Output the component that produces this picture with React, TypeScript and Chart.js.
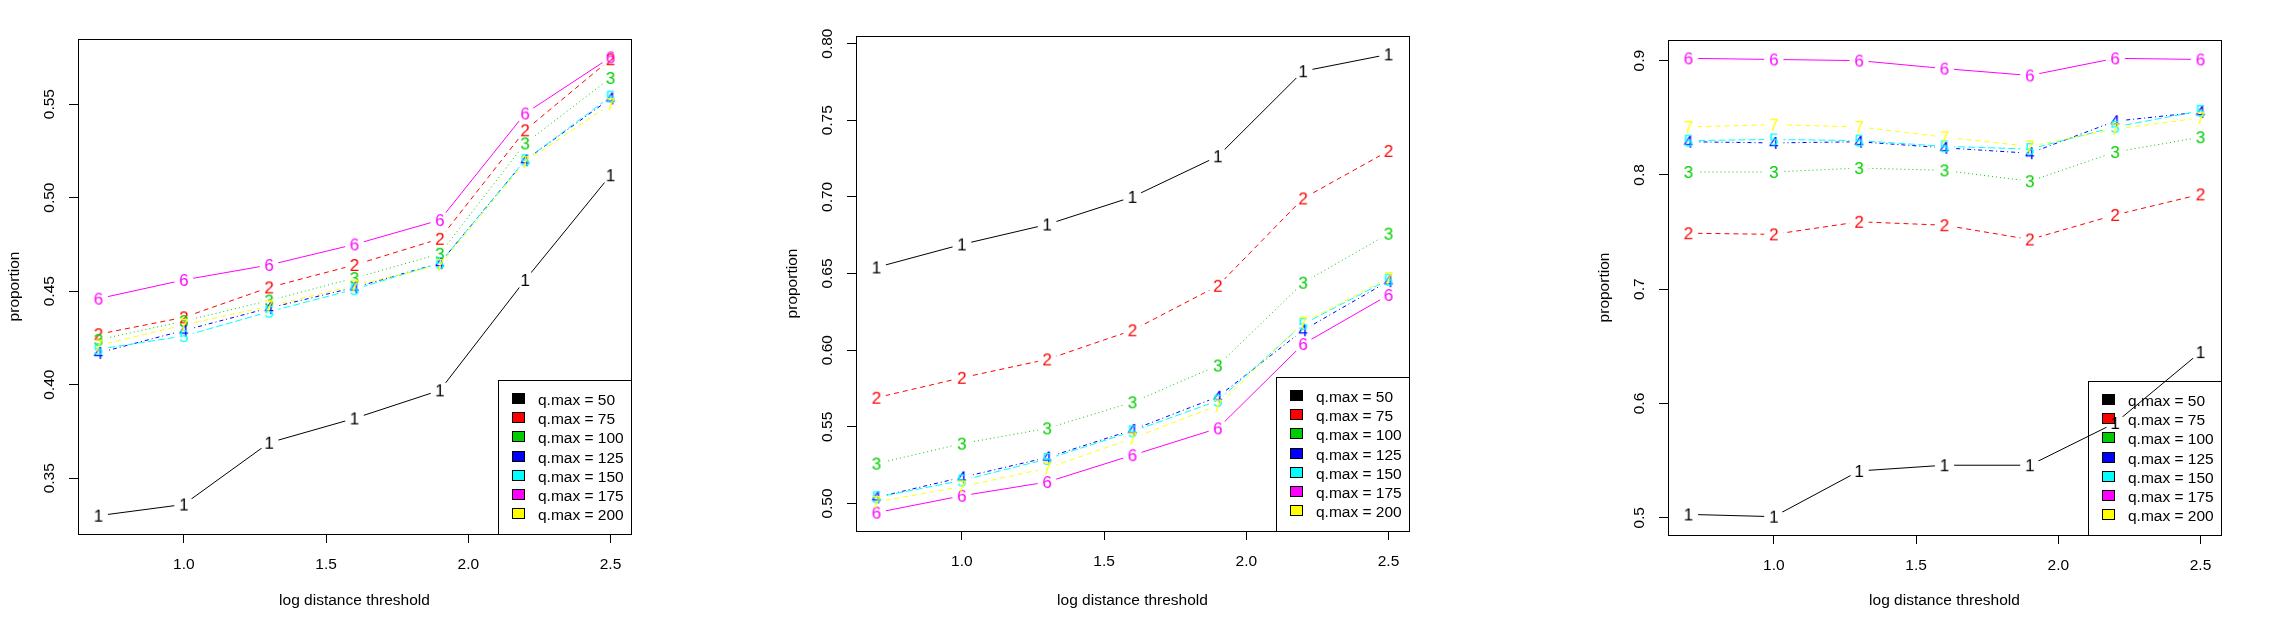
import { useEffect, useRef } from 'react'
import { Chart, registerables } from 'chart.js'

Chart.register(...registerables)

// x positions shared by all three panels
const thresholds = [0.7, 1.0, 1.3, 1.6, 1.9, 2.2, 2.5]
const qMax = [50, 75, 100, 125, 150, 175, 200]
const xTicks = [1.0, 1.5, 2.0, 2.5]

// left panel, one row per q.max
const leftValues = [
  [0.330, 0.336, 0.369, 0.382, 0.397, 0.456, 0.512],
  [0.427, 0.436, 0.452, 0.464, 0.478, 0.536, 0.574],
  [0.424, 0.434, 0.445, 0.457, 0.470, 0.529, 0.564],
  [0.417, 0.429, 0.441, 0.452, 0.465, 0.520, 0.553],
  [0.419, 0.426, 0.439, 0.451, 0.465, 0.520, 0.554],
  [0.446, 0.456, 0.464, 0.475, 0.488, 0.545, 0.575],
  [0.421, 0.432, 0.442, 0.453, 0.464, 0.519, 0.550],
]
const leftYTicks = [0.35, 0.4, 0.45, 0.5, 0.55]

// middle panel
const middleValues = [
  [0.654, 0.669, 0.682, 0.700, 0.7265, 0.782, 0.793],
  [0.569, 0.582, 0.594, 0.613, 0.642, 0.699, 0.730],
  [0.526, 0.539, 0.549, 0.566, 0.590, 0.644, 0.676],
  [0.504, 0.517, 0.530, 0.548, 0.5696, 0.613, 0.645],
  [0.504, 0.515, 0.529, 0.547, 0.567, 0.617, 0.646],
  [0.494, 0.505, 0.514, 0.5315, 0.549, 0.604, 0.636],
  [0.501, 0.511, 0.523, 0.5425, 0.564, 0.618, 0.647],
]
const middleYTicks = [0.5, 0.55, 0.6, 0.65, 0.7, 0.75, 0.8]

// right panel
const rightValues = [
  [0.503, 0.501, 0.541, 0.546, 0.546, 0.583, 0.645],
  [0.749, 0.748, 0.759, 0.756, 0.7435, 0.765, 0.783],
  [0.8026, 0.8026, 0.806, 0.804, 0.7945, 0.820, 0.833],
  [0.829, 0.828, 0.829, 0.8237, 0.819, 0.847, 0.855],
  [0.830, 0.831, 0.830, 0.825, 0.8226, 0.842, 0.856],
  [0.902, 0.901, 0.900, 0.893, 0.887, 0.902, 0.901],
  [0.842, 0.844, 0.842, 0.833, 0.825, 0.840, 0.850],
]
const rightYTicks = [0.5, 0.6, 0.7, 0.8, 0.9]

// R palette + matplot lty 1:5 cycle
const seriesColors = ['#000000', '#FF0000', '#00CD00', '#0000FF', '#00FFFF', '#FF00FF', '#FFFF00']
const seriesDashes = [[], [5, 4], [1, 3], [1, 3, 4, 3], [7, 3], [], [5, 4]]

const FONT = '"Liberation Sans", Arial, sans-serif'
const FONT_SIZE = 15.5
const POINT_FONT_SIZE = 17
const AXIS_W = 78
const BOX_W = 553
const CANVAS_W = 700
const CANVAS_H = 630
const GAP = 9.7

Chart.defaults.font.family = FONT
Chart.defaults.font.size = FONT_SIZE
Chart.defaults.color = '#000'

const panels = [
  { id: 'left', values: leftValues, yTicks: leftYTicks, decimals: 2, boxLeft: 78, boxTop: 39, boxBottom: 534 },
  { id: 'middle', values: middleValues, yTicks: middleYTicks, decimals: 2, boxLeft: 856, boxTop: 36, boxBottom: 531 },
  { id: 'right', values: rightValues, yTicks: rightYTicks, decimals: 1, boxLeft: 1668, boxTop: 40, boxBottom: 535 },
]

function paddedRange(vals: number[]) {
  const lo = Math.min(...vals)
  const hi = Math.max(...vals)
  const pad = (hi - lo) * 0.04
  return [lo - pad, hi + pad]
}

// pch as a character: small canvas used as the point style
function digitImage(digit: string, color: string) {
  const c = document.createElement('canvas')
  c.width = 28
  c.height = 28
  const g = c.getContext('2d')!
  g.font = `${POINT_FONT_SIZE}px ${FONT}`
  g.fillStyle = color
  g.textAlign = 'center'
  g.textBaseline = 'alphabetic'
  g.fillText(digit, 14, 14 + POINT_FONT_SIZE * 0.358)
  return c
}

// type = "b": leave a gap in each line around its own points
const gapPlugin = {
  id: 'typeBGaps',
  beforeDatasetDraw(chart: any, args: any) {
    const ds = chart.data.datasets[args.index]
    if (!ds.gapped) return
    const ctx = chart.ctx
    ctx.save()
    ctx.beginPath()
    ctx.rect(0, 0, chart.width, chart.height)
    for (const pt of args.meta.data) {
      ctx.moveTo(pt.x + GAP, pt.y)
      ctx.arc(pt.x, pt.y, GAP, 0, Math.PI * 2)
    }
    ctx.clip('evenodd')
  },
  afterDatasetDraw(chart: any, args: any) {
    const ds = chart.data.datasets[args.index]
    if (!ds.gapped) return
    chart.ctx.restore()
  },
}

// box, rotated y labels and the legend in R's style
const framePlugin = {
  id: 'rFrame',
  beforeDatasetsDraw(chart: any, _args: any, opts: any) {
    const { ctx, chartArea: a } = chart
    ctx.save()
    ctx.strokeStyle = '#000'
    ctx.lineWidth = 1
    ctx.strokeRect(Math.round(a.left) + 0.5, Math.round(a.top) + 0.5, Math.round(a.right - a.left), Math.round(a.bottom - a.top))

    const y = chart.scales.y
    ctx.font = `${FONT_SIZE}px ${FONT}`
    ctx.fillStyle = '#000'
    ctx.textAlign = 'center'
    ctx.textBaseline = 'middle'
    for (const t of y.ticks) {
      const py = y.getPixelForValue(t.value)
      ctx.save()
      ctx.translate(a.left - 28, py)
      ctx.rotate(-Math.PI / 2)
      ctx.fillText(Number(t.value).toFixed(opts.decimals), 0, 0)
      ctx.restore()
    }

    const lw = 133
    const lh = 154
    const lx = Math.round(a.right - lw)
    const ly = Math.round(a.bottom - lh)
    ctx.strokeRect(lx + 0.5, ly + 0.5, lw, lh)
    ctx.textAlign = 'left'
    ctx.textBaseline = 'alphabetic'
    opts.labels.forEach((label: string, i: number) => {
      const cy = Math.round(ly + 18 + i * 19.17)
      ctx.fillStyle = opts.colors[i]
      ctx.fillRect(lx + 14, cy - 5, 13, 10)
      ctx.strokeStyle = '#000'
      ctx.strokeRect(lx + 14.5, cy - 4.5, 12, 10)
      ctx.fillStyle = '#000'
      ctx.fillText(label, lx + 40, cy + 1.5 + FONT_SIZE * 0.358)
    })
    ctx.restore()
  },
}

interface PanelProps {
  values: number[][]
  yTicks: number[]
  decimals: number
  boxLeft: number
  boxTop: number
  boxBottom: number
}

function Panel({ values, yTicks, decimals, boxLeft, boxTop, boxBottom }: PanelProps) {
  const chartRef = useRef<HTMLCanvasElement>(null)

  useEffect(() => {
    if (!chartRef.current) return
    const ctx = chartRef.current.getContext('2d')
    if (!ctx) return

    const xr = paddedRange(thresholds)
    const yr = paddedRange(values.flat())

    const datasets: any[] = []
    values.forEach((vals, i) => {
      const pts = thresholds.map((x, j) => ({ x, y: vals[j] }))
      datasets.push({
        label: `q.max = ${qMax[i]}`,
        data: pts,
        gapped: true,
        borderColor: seriesColors[i],
        borderWidth: 1,
        borderDash: seriesDashes[i],
        pointRadius: 0,
        pointHoverRadius: 0,
        fill: false,
        tension: 0,
        order: 2 * (7 - i) + 1,
      })
      datasets.push({
        data: pts,
        showLine: false,
        pointStyle: digitImage(String(i + 1), seriesColors[i]),
        pointRadius: 6,
        pointHoverRadius: 6,
        order: 2 * (7 - i),
      })
    })

    const chart = new Chart(ctx, {
      type: 'line',
      data: { datasets },
      plugins: [gapPlugin, framePlugin],
      options: {
        animation: false,
        responsive: false,
        devicePixelRatio: 1,
        events: [],
        layout: { padding: { top: boxTop, right: CANVAS_W - AXIS_W - BOX_W, left: 0, bottom: 0 } },
        plugins: {
          legend: { display: false },
          tooltip: { enabled: false },
          rFrame: {
            decimals,
            labels: qMax.map((q) => `q.max = ${q}`),
            colors: seriesColors,
          },
        } as any,
        scales: {
          x: {
            type: 'linear',
            min: xr[0],
            max: xr[1],
            afterBuildTicks: (s: any) => {
              s.ticks = xTicks.map((v) => ({ value: v }))
            },
            afterFit: (s: any) => {
              s.height = CANVAS_H - boxBottom
            },
            ticks: {
              autoSkip: false,
              maxRotation: 0,
              minRotation: 0,
              padding: 12,
              color: '#000',
              callback: (v: any) => Number(v).toFixed(1),
            },
            grid: { drawOnChartArea: false, drawTicks: true, tickLength: 9, color: '#000', lineWidth: 1 },
            border: { display: false },
            title: {
              display: true,
              text: 'log distance threshold',
              color: '#000',
              padding: { top: 0, bottom: 20 },
            },
          },
          y: {
            type: 'linear',
            min: yr[0],
            max: yr[1],
            afterBuildTicks: (s: any) => {
              s.ticks = yTicks.map((v) => ({ value: v }))
            },
            afterFit: (s: any) => {
              s.width = AXIS_W
            },
            ticks: { display: false },
            grid: { drawOnChartArea: false, drawTicks: true, tickLength: 9, color: '#000', lineWidth: 1 },
            border: { display: false },
            title: {
              display: true,
              text: 'proportion',
              color: '#000',
              padding: { top: 5, bottom: 0 },
            },
          },
        },
      },
    })

    return () => {
      chart.destroy()
    }
  }, [values, yTicks, decimals, boxTop, boxBottom])

  return (
    <canvas
      ref={chartRef}
      width={CANVAS_W}
      height={CANVAS_H}
      style={{ position: 'absolute', left: boxLeft - AXIS_W, top: 0, width: CANVAS_W, height: CANVAS_H }}
    />
  )
}

export default function App() {
  return (
    <div style={{ position: 'fixed', left: 0, top: 0, width: 2284, height: 630, background: '#fff', overflow: 'hidden' }}>
      {panels.map((p) => (
        <Panel key={p.id} {...p} />
      ))}
    </div>
  )
}
